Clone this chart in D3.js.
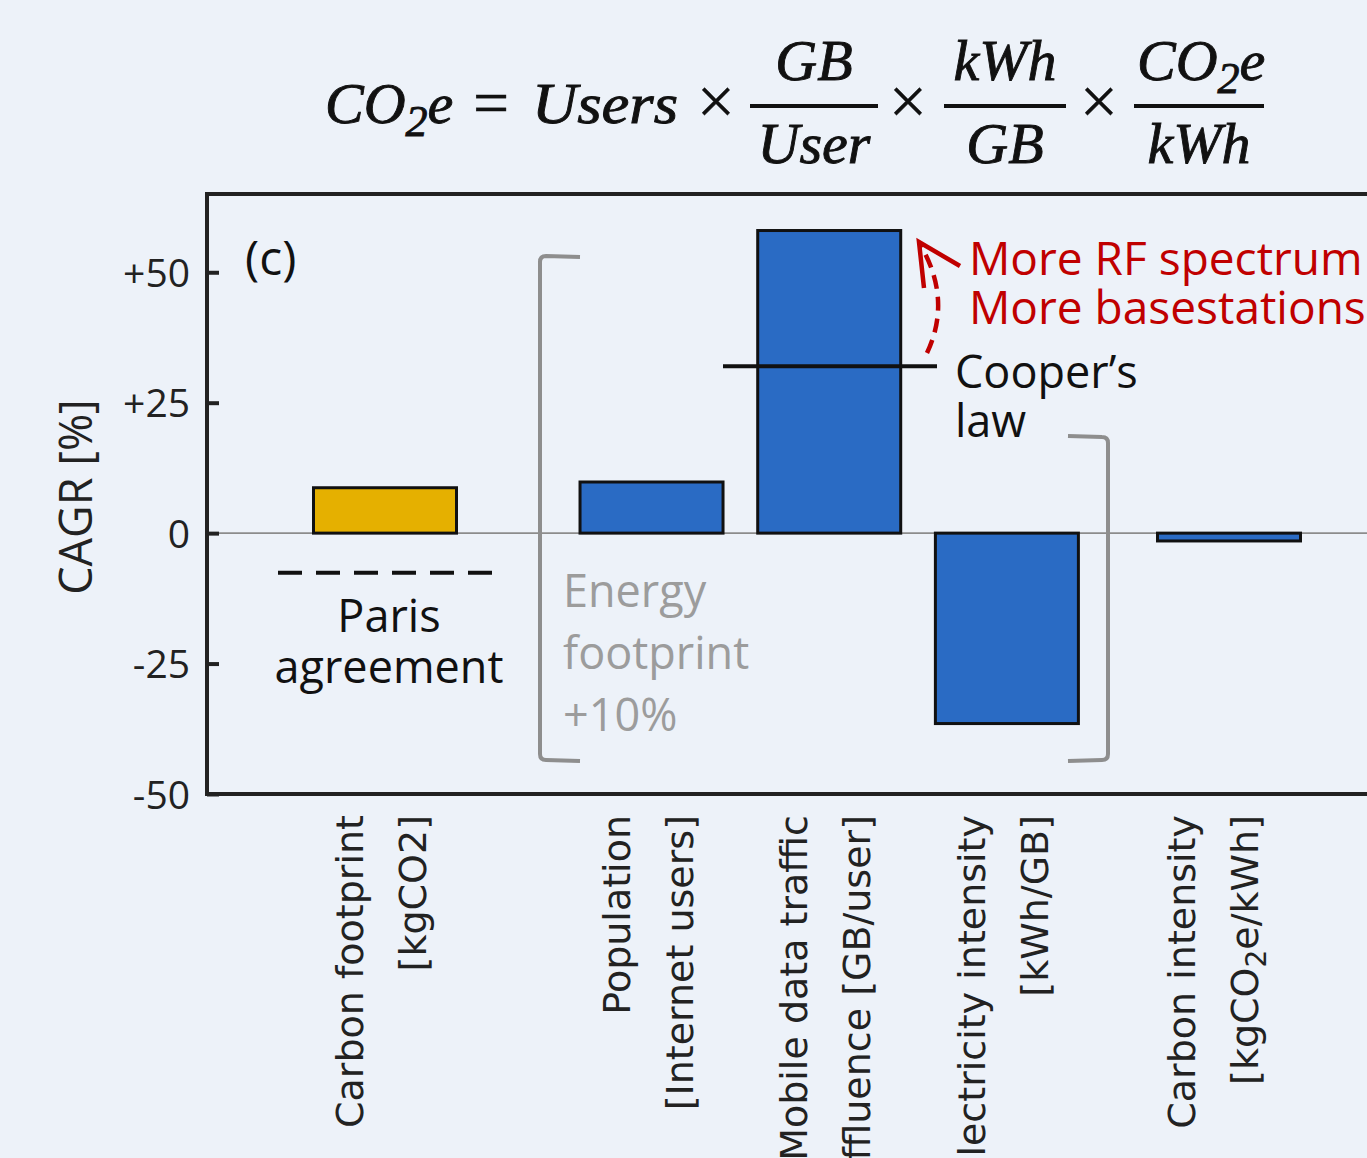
<!DOCTYPE html>
<html><head><meta charset="utf-8">
<script src="https://cdn.jsdelivr.net/npm/d3@7"></script>
<style>
html,body{margin:0;padding:0;background:#edf2f9;overflow:hidden}
svg{display:block}
</style></head>
<body><svg id="c" width="1367" height="1158"></svg>
<script>
// ---- data ----
const categories = ["Carbon footprint","Population","Mobile data traffic","Electricity intensity","Carbon intensity"];
const units = ["[kgCO2]","[Internet users]","affluence [GB/user]","[kWh/GB]","[kgCO2e/kWh]"];
const cagr = [8.7, 9.8, 58, -36.5, -1.5];
const barType = ["target","driver","driver","driver","driver"];
const yTicks = [50, 25, 0, -25, -50];
const yTickLabels = ["+50","+25","0","-25","-50"];
const parisTarget = -7.6;
const coopersLaw = 32;

// ---- layout ----
const W = 1367, H = 1158;
const svg = d3.select("#c");
const pLeft = 207, pTop = 194, pBottom = 794;
const y = d3.scaleLinear().domain([-50, 65]).range([pBottom, pTop]);
const slots = [0, 6, 10, 14, 19];
const labelShift = [0, 0, 0, 0, -12];
const xs = d3.scaleLinear().domain([0, 19]).range([385, 1229]);
const bw = 143;
const colors = {target:"#e5b000", driver:"#2a6bc4"};
const annoFont = "'Open Sans', Lato, sans-serif";
const annoSize = 45;

// zero line
svg.append("line").attr("x1", pLeft).attr("x2", W+10).attr("y1", y(0)).attr("y2", y(0))
  .attr("stroke", "#8c8c8c").attr("stroke-width", 1.6);

// brackets
const br = svg.append("g").attr("fill","none").attr("stroke","#8e8e8e").attr("stroke-width",4).attr("stroke-linejoin","round");
br.append("path").attr("d", `M580,257 L546,256 Q540,256 540,262 L540,754 Q540,760 546,760 L580,761`);
br.append("path").attr("d", `M1068,436 L1102,437 Q1108,437 1108,443 L1108,754 Q1108,760 1102,760 L1068,761`);

// bars
svg.append("g").selectAll("rect").data(cagr).join("rect")
  .attr("x", (d,i) => xs(slots[i]) - bw/2)
  .attr("y", d => y(Math.max(0,d)))
  .attr("width", bw)
  .attr("height", d => Math.abs(y(d) - y(0)))
  .attr("fill", (d,i) => colors[barType[i]])
  .attr("stroke", "#111").attr("stroke-width", 3);

// frame
svg.append("path").attr("d", `M${W+20},${pTop} L${pLeft},${pTop} L${pLeft},${pBottom} L${W+20},${pBottom}`)
  .attr("fill","none").attr("stroke","#222").attr("stroke-width",4);

// y axis ticks
const yAxis = d3.axisLeft(y).tickValues(yTicks).tickSizeInner(-12).tickSizeOuter(0)
  .tickFormat((d,i) => yTickLabels[i]).tickPadding(17);
const ga = svg.append("g").attr("transform", `translate(${pLeft},0)`).call(yAxis);
ga.select(".domain").remove();
ga.selectAll(".tick line").attr("stroke","#222").attr("stroke-width",4);
ga.selectAll(".tick text").attr("font-family","'Open Sans', sans-serif").attr("font-size",39).attr("fill","#222").attr("dy","0.36em");

// y title
svg.append("text").attr("transform","translate(92,497) rotate(-90)").attr("text-anchor","middle")
  .attr("font-family","'Open Sans', sans-serif").attr("font-size",45).attr("fill","#222").text("CAGR [%]");

// panel label
svg.append("text").attr("x",245).attr("y",275).attr("font-family",annoFont).attr("font-size",48).attr("fill","#111").text("(c)");

// Paris agreement
svg.append("line").attr("x1",278).attr("x2",492).attr("y1",y(parisTarget)).attr("y2",y(parisTarget))
  .attr("stroke","#111").attr("stroke-width",4).attr("stroke-dasharray","24,14");
svg.append("text").attr("x",389).attr("y",632).attr("text-anchor","middle").attr("font-family",annoFont).attr("font-size",annoSize).attr("fill","#111").text("Paris");
svg.append("text").attr("x",389).attr("y",683).attr("text-anchor","middle").attr("font-family",annoFont).attr("font-size",annoSize).attr("fill","#111").text("agreement");

// Energy footprint
const ef = ["Energy","footprint","+10%"];
svg.append("g").selectAll("text").data(ef).join("text")
  .attr("x",563).attr("y",(d,i)=>607+i*62).attr("font-family",annoFont).attr("font-size",annoSize).attr("fill","#9c9c9c").text(d=>d);

// Cooper's law
svg.append("line").attr("x1",723).attr("x2",937).attr("y1",y(coopersLaw)).attr("y2",y(coopersLaw))
  .attr("stroke","#111").attr("stroke-width",4);
svg.append("text").attr("x",955).attr("y",388).attr("font-family",annoFont).attr("font-size",annoSize).attr("fill","#111").text("Cooper\u2019s");
svg.append("text").attr("x",955).attr("y",437).attr("font-family",annoFont).attr("font-size",annoSize).attr("fill","#111").text("law");

// red arrow + text
const red = "#c00000";
svg.append("path").attr("d","M927,353 Q952,300 921,246").attr("fill","none").attr("stroke",red).attr("stroke-width",4.5).attr("stroke-dasharray","14,8");
svg.append("path").attr("d","M960,266 L919,242 L924,288").attr("fill","none").attr("stroke",red).attr("stroke-width",4.5).attr("stroke-linejoin","miter");
svg.append("text").attr("x",969).attr("y",275).attr("font-family",annoFont).attr("font-size",46).attr("fill",red).text("More RF spectrum");
svg.append("text").attr("x",969).attr("y",324).attr("font-family",annoFont).attr("font-size",46).attr("fill",red).text("More basestations");

// category labels (rotated)
const catFont = "'DejaVu Sans', Verdana, sans-serif";
const catSize = 38;
const gl = svg.append("g");
categories.forEach((c,i) => {
  const cx = xs(slots[i]) + labelShift[i];
  gl.append("text").attr("transform",`translate(${cx-22},815) rotate(-90)`).attr("text-anchor","end")
    .attr("font-family",catFont).attr("font-size",catSize).attr("fill","#222").text(c);
  const t = gl.append("text").attr("transform",`translate(${cx+41},815) rotate(-90)`).attr("text-anchor","end")
    .attr("font-family",catFont).attr("font-size",catSize).attr("fill","#222");
  const u = units[i];
  if (u === "[kgCO2e/kWh]") {
    t.append("tspan").text("[kgCO");
    t.append("tspan").attr("baseline-shift","-30%").attr("font-size",28).text("2");
    t.append("tspan").text("e/kWh]");
  } else t.text(u);
});

// formula
const ff = "'Liberation Serif', 'DejaVu Serif', serif";
const fg = svg.append("g").attr("font-family",ff).attr("font-style","italic").attr("fill","#111")
  .attr("stroke","#111").attr("stroke-width",0.9).attr("font-size",58);
function co2e(g, x, yb){
  const t = g.append("text").attr("x",x).attr("y",yb);
  t.append("tspan").text("CO");
  t.append("tspan").attr("dy",13).attr("font-size",44).text("2");
  t.append("tspan").attr("dy",-13).text("e");
  return t;
}
co2e(fg, 325, 123);
fg.append("text").attr("x",491).attr("y",124).attr("text-anchor","middle").attr("font-style","normal").attr("font-size",64).attr("stroke-width",0.4).text("=");
fg.append("text").attr("x",532).attr("y",123).attr("textLength",146).attr("lengthAdjust","spacingAndGlyphs").text("Users");
[716, 908, 1099].forEach(x => fg.append("text").attr("x",x).attr("y",124).attr("text-anchor","middle").attr("font-style","normal").attr("font-size",68).attr("stroke-width",0.3).text("\u00d7"));
const fr = [[750,878,"GB","User"],[944,1066,"kWh","GB"],[1134,1264,null,"kWh"]];
fr.forEach(([a,b,n,d]) => {
  fg.append("line").attr("x1",a).attr("x2",b).attr("y1",106).attr("y2",106).attr("stroke","#111").attr("stroke-width",4);
  const m = (a+b)/2;
  if (n) fg.append("text").attr("x",m).attr("y",80).attr("text-anchor","middle").text(n);
  fg.append("text").attr("x",m).attr("y",163).attr("text-anchor","middle").text(d);
});
co2e(fg, 1137, 80);
</script></body></html>
